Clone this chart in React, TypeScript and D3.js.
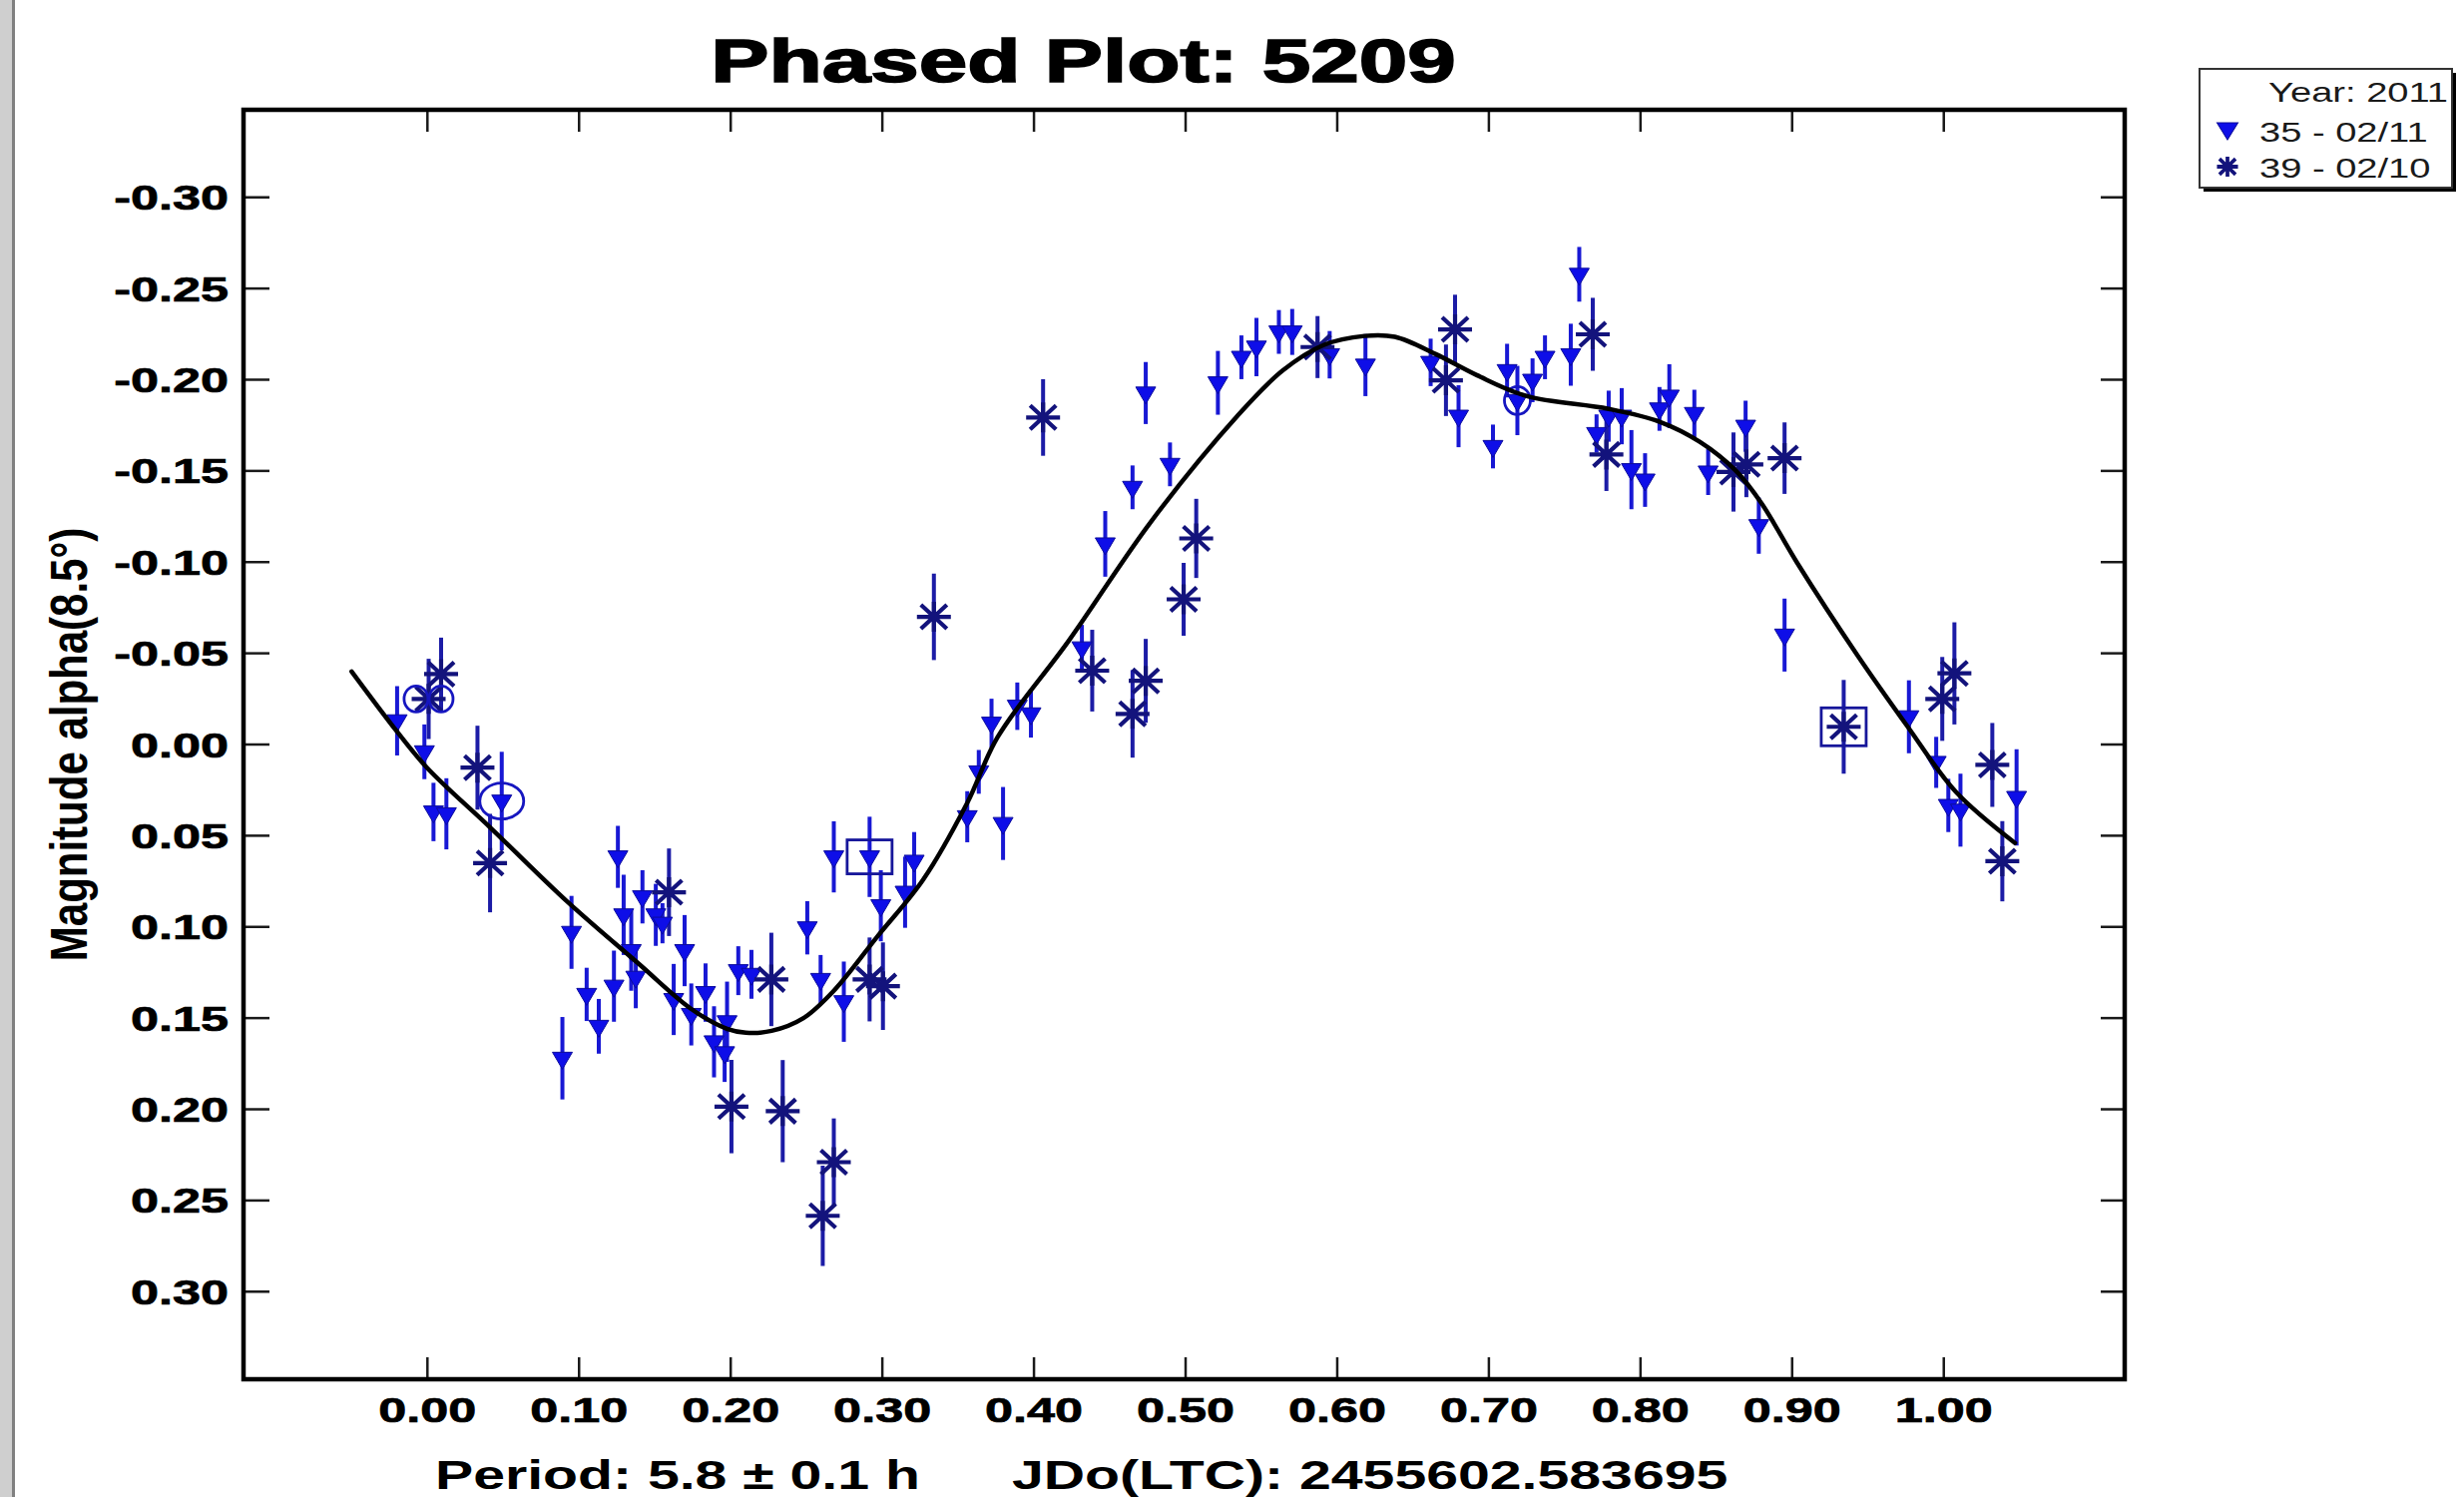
import { useEffect, useRef } from 'react'
import * as d3 from 'd3'

const W = 2469
const H = 1500

// [phase, magnitude, error] — session 35 (02/11), triangles
const SESSION_35 = [
  [-0.020, -0.013, 0.019], [-0.002, 0.004, 0.015], [0.004, 0.037, 0.016], [0.0125, 0.038, 0.0195],
  [0.049, 0.031, 0.027], [0.095, 0.103, 0.020], [0.089, 0.172, 0.0226], [0.105, 0.137, 0.0146],
  [0.113, 0.1545, 0.015], [0.123, 0.1325, 0.0195], [0.1256, 0.0616, 0.017], [0.1294, 0.0934, 0.022],
  [0.1344, 0.113, 0.022], [0.1374, 0.1276, 0.017], [0.1418, 0.0835, 0.0146], [0.1506, 0.0934, 0.017],
  [0.155, 0.098, 0.011], [0.1696, 0.113, 0.0195], [0.1624, 0.1398, 0.0195], [0.174, 0.148, 0.017],
  [0.1834, 0.136, 0.016], [0.189, 0.163, 0.0195], [0.1976, 0.152, 0.022], [0.196, 0.169, 0.016],
  [0.205, 0.124, 0.0134], [0.2137, 0.126, 0.0134], [0.2505, 0.1005, 0.0146], [0.2593, 0.1288, 0.0134],
  [0.2746, 0.141, 0.022], [0.268, 0.0616, 0.0195], [0.2916, 0.0616, 0.022], [0.299, 0.0884, 0.0195],
  [0.315, 0.081, 0.0195], [0.321, 0.064, 0.016], [0.356, 0.0396, 0.014], [0.3636, 0.015, 0.012],
  [0.372, -0.0117, 0.0134], [0.3796, 0.0433, 0.020], [0.389, -0.021, 0.013], [0.398, -0.0168, 0.013],
  [0.4316, -0.053, 0.0126], [0.447, -0.110, 0.018], [0.465, -0.141, 0.012], [0.4737, -0.1927, 0.017],
  [0.4897, -0.1536, 0.012], [0.5213, -0.1983, 0.0175], [0.5368, -0.2123, 0.012], [0.5467, -0.2179, 0.016],
  [0.5615, -0.2262, 0.012], [0.5703, -0.2262, 0.0126], [0.595, -0.2137, 0.013], [0.6186, -0.208, 0.017],
  [0.6616, -0.2095, 0.013], [0.680, -0.180, 0.017], [0.7027, -0.1634, 0.012], [0.712, -0.205, 0.0147],
  [0.7188, -0.1886, 0.019], [0.7288, -0.1997, 0.012], [0.737, -0.2123, 0.012], [0.754, -0.2137, 0.017],
  [0.7596, -0.2578, 0.015], [0.771, -0.1705, 0.0105], [0.779, -0.180, 0.014], [0.7876, -0.180, 0.0154],
  [0.794, -0.1507, 0.0217], [0.803, -0.145, 0.0147], [0.8125, -0.184, 0.012], [0.819, -0.191, 0.0175],
  [0.8355, -0.1815, 0.013], [0.8446, -0.1494, 0.0126], [0.8693, -0.1745, 0.014], [0.878, -0.120, 0.0154],
  [0.895, -0.060, 0.020], [0.977, -0.0152, 0.020], [0.995, 0.0098, 0.014], [1.003, 0.0334, 0.0146],
  [1.011, 0.036, 0.020], [1.048, 0.029, 0.0264],
]

// [phase, magnitude, error] — session 39 (02/10), asterisks
const SESSION_39 = [
  [0.0008, -0.025, 0.022], [0.009, -0.0386, 0.020], [0.033, 0.0127, 0.023], [0.0413, 0.065, 0.027],
  [0.1593, 0.081, 0.024], [0.2005, 0.1985, 0.0256], [0.2268, 0.1288, 0.0256], [0.2343, 0.201, 0.028],
  [0.268, 0.229, 0.024], [0.2607, 0.2584, 0.0275], [0.2916, 0.1288, 0.023], [0.3004, 0.1325, 0.024],
  [0.334, -0.070, 0.0237], [0.406, -0.1793, 0.021], [0.4384, -0.0405, 0.0224], [0.465, -0.0168, 0.024],
  [0.4737, -0.0349, 0.023], [0.507, -0.113, 0.0217], [0.4987, -0.0796, 0.020], [0.587, -0.2179, 0.017],
  [0.6777, -0.2276, 0.019], [0.6717, -0.1997, 0.0196], [0.7685, -0.2249, 0.020], [0.7775, -0.159, 0.020],
  [0.8613, -0.1494, 0.0217], [0.8698, -0.1536, 0.018], [0.895, -0.157, 0.0196], [0.934, -0.0097, 0.0257],
  [0.999, -0.025, 0.023], [1.007, -0.039, 0.028], [1.032, 0.0112, 0.023], [1.0386, 0.064, 0.022],
]

// fourier fit
const FIT_CURVE = [
  [-0.05, -0.040], [-0.02, -0.007], [0.0, 0.013], [0.042, 0.046], [0.092, 0.086], [0.139, 0.120],
  [0.174, 0.145], [0.198, 0.156], [0.21, 0.158], [0.227, 0.157], [0.248, 0.150], [0.268, 0.135],
  [0.297, 0.105], [0.327, 0.074], [0.356, 0.032], [0.376, -0.004], [0.423, -0.057], [0.477, -0.122],
  [0.534, -0.180], [0.564, -0.205], [0.591, -0.219], [0.618, -0.224], [0.638, -0.2235], [0.665, -0.214],
  [0.692, -0.2025], [0.725, -0.191], [0.779, -0.184], [0.8125, -0.177], [0.839, -0.166], [0.863, -0.150],
  [0.880, -0.132], [0.903, -0.100], [0.943, -0.049], [0.976, -0.010], [1.008, 0.026], [1.047, 0.054],
]

// first points of each night are marked
const CIRCLED = [[-0.0075, -0.025], [0.009, -0.025], [0.049, 0.031], [0.7188, -0.1886]]
const BOXED = [[0.2916, 0.0616], [0.934, -0.0097]]

const X_TICKS = [0, 0.1, 0.2, 0.3, 0.4, 0.5, 0.6, 0.7, 0.8, 0.9, 1.0]
const Y_TICKS = [-0.3, -0.25, -0.2, -0.15, -0.1, -0.05, 0, 0.05, 0.1, 0.15, 0.2, 0.25, 0.3]

const TITLE = 'Phased Plot: 5209'
const Y_LABEL = 'Magnitude alpha(8.5°)'
const PERIOD_TEXT = 'Period: 5.8 ± 0.1 h'
const EPOCH_TEXT = 'JDo(LTC): 2455602.583695'
const LEGEND_TITLE = 'Year: 2011'
const LEGEND_LABELS = ['35 - 02/11', '39 - 02/10']

const RING_SIZE = [[12, 13], [12, 13], [22, 18], [13, 14]]
const BOX_SIZE = [[45, 34], [45, 38]]

const TRI_FILL = '#0e0ee8'
const TRI_BAR = '#1818d4'
const STAR_COL = '#13137c'
const FONT = '"Liberation Sans", Arial, sans-serif'
const SX = 1.43

const TRI_PATH = 'M-10,-6L10,-6L0,11Z'
const STAR_PATH = 'M-17,0L17,0M0,-15L0,15M-13,-12L13,12M-13,12L13,-12'

export default function App() {
  const svgRef = useRef(null)

  useEffect(() => {
    const svg = d3.select(svgRef.current)
    svg.selectAll('*').remove()

    const x = d3.scaleLinear().domain([-0.1213, 1.1193]).range([244, 2129])
    const y = d3.scaleLinear().domain([-0.348, 0.348]).range([110, 1382])
    const [x0, x1] = x.range()
    const [y0, y1] = y.range()

    svg.append('rect').attr('width', W).attr('height', H).attr('fill', '#fff')
    // window edge on the left
    svg.append('rect').attr('x', 0).attr('y', 0).attr('width', 12).attr('height', H).attr('fill', '#cfcfcf')
    svg.append('rect').attr('x', 12).attr('y', 0).attr('width', 3).attr('height', H).attr('fill', '#808080')

    const txt = (t, px, py, size, opts: any = {}) => {
      const sx = opts.sx ?? SX
      const rot = opts.rotate ? ' rotate(-90)' : ''
      const el = svg.append('text')
        .attr('transform', `translate(${px},${py}) scale(${sx},1)${rot}`)
        .attr('font-family', FONT)
        .attr('font-size', size)
        .attr('font-weight', opts.weight || 'normal')
        .attr('text-anchor', opts.anchor || 'start')
        .attr('fill', opts.fill || '#000')
        .text(t)
      if (opts.stroke) el.attr('stroke', opts.fill || '#000').attr('stroke-width', opts.stroke)
      return el
    }

    // title
    txt(TITLE, (x0 + x1) / 2 - 101, 82, 61, { weight: 'bold', anchor: 'middle', stroke: 1.6 })

    // ticks (inward on all four sides)
    const tickG = svg.append('g').attr('stroke', '#1a1a1a').attr('stroke-width', 2.5)
    X_TICKS.forEach(t => {
      tickG.append('line').attr('x1', x(t)).attr('x2', x(t)).attr('y1', y1).attr('y2', y1 - 22)
      tickG.append('line').attr('x1', x(t)).attr('x2', x(t)).attr('y1', y0).attr('y2', y0 + 22)
      txt(t.toFixed(2), x(t), 1425, 35, { weight: 'bold', anchor: 'middle', sx: 1.44, stroke: 0.7 })
    })
    Y_TICKS.forEach(t => {
      tickG.append('line').attr('x1', x0).attr('x2', x0 + 26).attr('y1', y(t)).attr('y2', y(t))
      tickG.append('line').attr('x1', x1).attr('x2', x1 - 24).attr('y1', y(t)).attr('y2', y(t))
      txt(t.toFixed(2), 229, y(t) + 12.5, 35, { weight: 'bold', anchor: 'end', sx: 1.44, stroke: 0.7 })
    })

    // error bars
    const bars = svg.append('g').attr('stroke-width', 4)
    SESSION_35.forEach(([p, m, e]) => {
      bars.append('line').attr('stroke', TRI_BAR)
        .attr('x1', x(p)).attr('x2', x(p)).attr('y1', y(m - e)).attr('y2', y(m + e))
    })
    SESSION_39.forEach(([p, m, e]) => {
      bars.append('line').attr('stroke', '#1c1ca6')
        .attr('x1', x(p)).attr('x2', x(p)).attr('y1', y(m - e)).attr('y2', y(m + e))
    })

    // markers
    svg.append('g').selectAll('path').data(SESSION_35).enter().append('path')
      .attr('d', TRI_PATH)
      .attr('transform', d => `translate(${x(d[0])},${y(d[1])})`)
      .attr('fill', TRI_FILL).attr('stroke', '#0c0c9c').attr('stroke-width', 1)
    svg.append('g').selectAll('path').data(SESSION_39).enter().append('path')
      .attr('d', STAR_PATH)
      .attr('transform', d => `translate(${x(d[0])},${y(d[1])})`)
      .attr('fill', 'none').attr('stroke', STAR_COL).attr('stroke-width', 4.2)

    CIRCLED.forEach(([p, m], i) => {
      svg.append('ellipse').attr('cx', x(p)).attr('cy', y(m))
        .attr('rx', RING_SIZE[i][0]).attr('ry', RING_SIZE[i][1])
        .attr('fill', 'none').attr('stroke', '#1616c0').attr('stroke-width', 2.8)
    })
    BOXED.forEach(([p, m], i) => {
      const [bw, bh] = BOX_SIZE[i]
      svg.append('rect').attr('x', x(p) - bw / 2).attr('y', y(m) - bh / 2)
        .attr('width', bw).attr('height', bh)
        .attr('fill', 'none').attr('stroke', '#16169a').attr('stroke-width', 2.8)
    })

    // fit curve
    const line = d3.line()
      .x(d => x(d[0])).y(d => y(d[1]))
      .curve(d3.curveCatmullRom.alpha(0.5))
    svg.append('path').datum(FIT_CURVE).attr('d', line)
      .attr('fill', 'none').attr('stroke', '#000').attr('stroke-width', 4.5)
      .attr('stroke-linejoin', 'round').attr('stroke-linecap', 'round')

    // frame
    svg.append('rect').attr('x', x0).attr('y', y0).attr('width', x1 - x0).attr('height', y1 - y0)
      .attr('fill', 'none').attr('stroke', '#000').attr('stroke-width', 4.5)

    // axis texts
    txt(Y_LABEL, 87, (y0 + y1) / 2, 42, { weight: 'bold', anchor: 'middle', rotate: true, sx: 1.25 })
    txt(PERIOD_TEXT, 436, 1492, 40, { weight: 'bold' })
    txt(EPOCH_TEXT, 1014, 1492, 40, { weight: 'bold' })

    // legend
    const lx = 2204, ly = 69, lw = 253, lh = 119
    svg.append('rect').attr('x', lx + 4).attr('y', ly + 4).attr('width', lw).attr('height', lh).attr('fill', '#000')
    svg.append('rect').attr('x', lx).attr('y', ly).attr('width', lw).attr('height', lh)
      .attr('fill', '#fff').attr('stroke', '#333').attr('stroke-width', 2)
    txt(LEGEND_TITLE, 2453, 102, 28, { anchor: 'end', fill: '#1a1a1a', sx: 1.36 })
    txt(LEGEND_LABELS[0], 2264, 142, 28, { fill: '#1a1a1a', sx: 1.36 })
    txt(LEGEND_LABELS[1], 2264, 178, 28, { fill: '#1a1a1a', sx: 1.36 })
    svg.append('path').attr('d', TRI_PATH).attr('transform', 'translate(2232,129) scale(1.05,1)')
      .attr('fill', TRI_FILL).attr('stroke', '#0c0c9c').attr('stroke-width', 1)
    svg.append('path').attr('d', STAR_PATH).attr('transform', 'translate(2232,167) scale(0.62,0.66)')
      .attr('fill', 'none').attr('stroke', STAR_COL).attr('stroke-width', 6)
  }, [])

  return (
    <div style={{ position: 'absolute', left: 0, top: 0 }}>
      <svg ref={svgRef} width={W} height={H} style={{ display: 'block' }} />
    </div>
  )
}
